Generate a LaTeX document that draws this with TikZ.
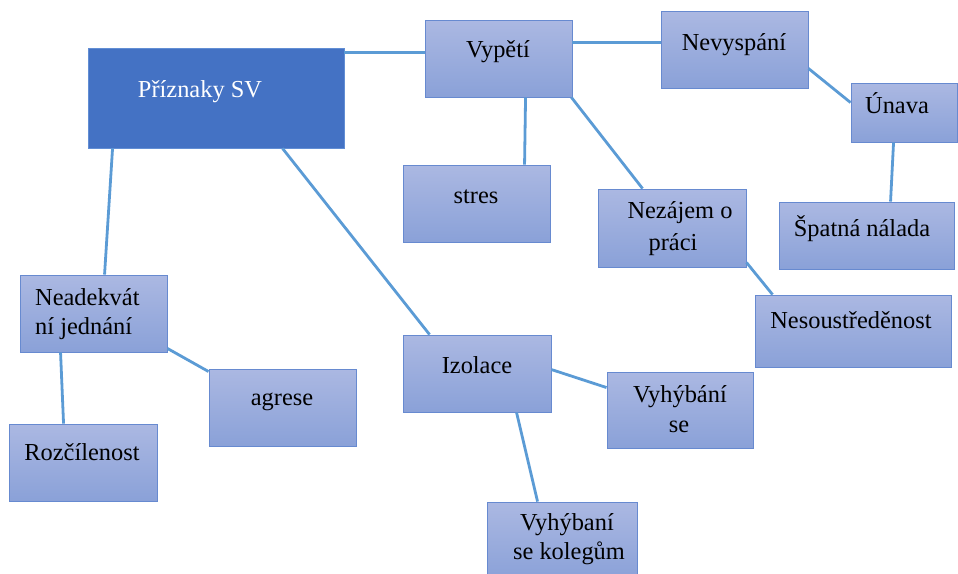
\documentclass[tikz,border=0pt]{standalone}
\usepackage{fontspec}
\setmainfont{Liberation Serif}
\newfontfamily\tnr{Liberation Serif}
\definecolor{boxtop}{RGB}{171,184,226}
\definecolor{boxbot}{RGB}{138,161,216}
\definecolor{boxline}{RGB}{103,138,208}
\definecolor{mainfill}{RGB}{68,114,196}
\definecolor{mainline}{RGB}{98,142,212}
\definecolor{conn}{RGB}{91,155,213}
\tikzset{
  box/.style={draw=boxline, line width=0.9pt, top color=boxtop, bottom color=boxbot, inner sep=0pt, rectangle},
  mainbox/.style={draw=mainline, line width=0.9pt, fill=mainfill, inner sep=0pt, rectangle},
  txt/.style={anchor=base, inner sep=0pt, font=\tnr\fontsize{24.4}{30}\selectfont},
  txtl/.style={anchor=base west, inner sep=0pt, font=\tnr\fontsize{24.4}{30}\selectfont},
  cn/.style={draw=conn, line width=2.8pt}
}
\begin{document}
\begin{tikzpicture}[x=1pt,y=-1pt]
\useasboundingbox (0,0) rectangle (958,573);
% boxes
\node[mainbox, minimum width=256pt, minimum height=100pt] (main) at (216,98) {};
\node[box, minimum width=147pt, minimum height=77pt] (vyp) at (498.5,58.5) {};
\node[box, minimum width=147pt, minimum height=77pt] (nev) at (734.5,49.5) {};
\node[box, minimum width=106pt, minimum height=59pt] (una) at (904,112.5) {};
\node[box, minimum width=175pt, minimum height=67pt] (spat) at (866.5,235.5) {};
\node[box, minimum width=147pt, minimum height=77pt] (stres) at (476.5,203.5) {};
\node[box, minimum width=148pt, minimum height=78pt] (nez) at (672,228) {};
\node[box, minimum width=196pt, minimum height=72pt] (nes) at (853,331) {};
\node[box, minimum width=147pt, minimum height=77pt] (nea) at (93.5,313.5) {};
\node[box, minimum width=148pt, minimum height=77pt] (roz) at (83,462.5) {};
\node[box, minimum width=147pt, minimum height=77pt] (agr) at (282.5,407.5) {};
\node[box, minimum width=148pt, minimum height=77pt] (izo) at (477,373.5) {};
\node[box, minimum width=146pt, minimum height=76pt] (vyh) at (680,410) {};
\node[box, minimum width=150pt, minimum height=78pt] (kol) at (562,541) {};
% texts
\node[txt, text=white] (tmain) at (200,97) {Příznaky SV};
\node[txt] (tvyp) at (498,57) {Vypětí};
\node[txt] (tnev) at (734,50) {Nevyspání};
\node[txt] (tuna) at (897,113) {Únava};
\node[txt] (tspat) at (862,236) {Špatná nálada};
\node[txt] (tstres) at (476,203) {stres};
\node[txt] (tnez1) at (680,218) {Nezájem o};
\node[txt] (tnez2) at (673,250) {práci};
\node[txt] (tnes) at (851,328) {Nesoustředěnost};
\node[txtl] (tnea1) at (35,305) {Neadekvát};
\node[txtl] (tnea2) at (35,334) {ní jednání};
\node[txt] (tagr) at (282,405) {agrese};
\node[txt] (troz) at (82,460) {Rozčílenost};
\node[txt] (tizo) at (477,373) {Izolace};
\node[txt] (tvyh1) at (680,402) {Vyhýbání};
\node[txt] (tvyh2) at (679,432) {se};
\node[txt] (tkol1) at (567,530) {Vyhýbaní};
\node[txt] (tkol2) at (569,559) {se kolegům};
% connectors
\draw[cn] ([yshift=-5pt]main.north east) -- ([yshift=-5pt]main.north east -| vyp.west);
\draw[cn] ([yshift=-23pt]vyp.north east) -- ([yshift=-23pt]vyp.north east -| nev.west);
\draw[cn] ([yshift=20pt]nev.south east) -- ([yshift=-20pt]una.north west);
\draw[cn] ([xshift=43pt]una.south west) -- ([xshift=112pt]spat.north west);
\draw[cn] ([xshift=101pt]vyp.south west) -- ([xshift=122pt]stres.north west);
\draw[cn] ([xshift=-1pt]vyp.south east) -- ([xshift=45pt]nez.north west);
\draw[cn] ([yshift=5pt]nez.south east) -- ([xshift=18pt]nes.north west);
\draw[cn] ([xshift=25pt]main.south west) -- ([xshift=85pt]nea.north west);
\draw[cn] ([xshift=41pt]nea.south west) -- ([xshift=55pt]roz.north west);
\draw[cn] ([yshift=4pt]nea.south east) -- ([yshift=-3pt]agr.north west);
\draw[cn] ([xshift=195pt]main.south west) -- ([xshift=27pt]izo.north west);
\draw[cn] ([yshift=-35pt]izo.north east) -- ([yshift=-16pt]vyh.north west);
\draw[cn] ([xshift=114pt]izo.south west) -- ([xshift=51pt]kol.north west);
\end{tikzpicture}
\end{document}
